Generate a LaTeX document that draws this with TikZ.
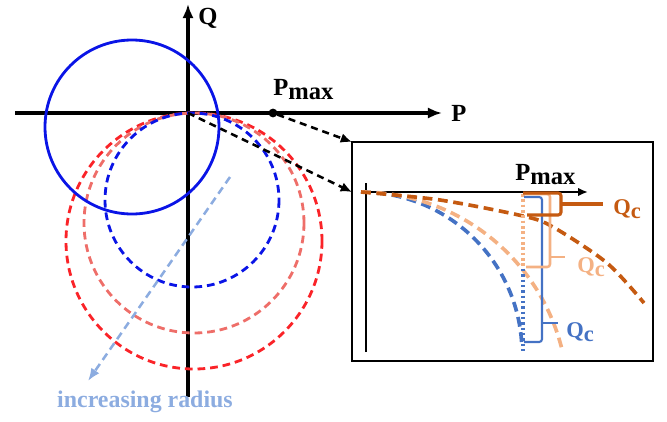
\documentclass[tikz,border=0pt]{standalone}
\usepackage{fontspec}
\setmainfont{Liberation Serif}
\usetikzlibrary{arrows.meta}

\definecolor{mainblue}{RGB}{10,20,230}
\definecolor{mainred}{RGB}{250,35,40}
\definecolor{salmon}{RGB}{238,110,105}
\definecolor{arrowblue}{RGB}{140,172,224}
\definecolor{insetblue}{RGB}{68,114,196}
\definecolor{peach}{RGB}{244,177,131}
\definecolor{darkorange}{RGB}{197,90,17}

\begin{document}
\begin{tikzpicture}[x=0.025cm, y=-0.025cm,
    font=\bfseries\fontsize{17.5}{20}\selectfont,
    axisline/.style={line width=2.6pt, -{Latex[length=10pt,width=8pt]}},
    circdash/.style={line width=2pt, dash pattern=on 5.5pt off 3.5pt},
    curvedash/.style={line width=2.6pt, dash pattern=on 7pt off 4pt},
    linkdash/.style={line width=1.8pt, dash pattern=on 5pt off 3.5pt, -{Latex[length=8pt,width=7pt]}},
    dotline/.style={line width=2.4pt, dash pattern=on 1.8pt off 2pt},
    bracket/.style={rounded corners=2pt},
    smalllab/.style={font=\bfseries\fontsize{16}{18}\selectfont, anchor=base west, inner sep=0pt}]
    \useasboundingbox (0,0) rectangle (667,422);

    % 坐标轴
    \coordinate (O) at (188,113);
    \coordinate (qbot) at (188,397);
    \coordinate (qtop) at (188,4);
    \coordinate (pleft) at (15,113);
    \coordinate (pright) at (442,113);
    \draw[axisline] (qbot) -- (qtop);
    \draw[axisline] (pleft) -- (pright);
    \node (Q) at (208,18) {Q};
    \node (P) at (459,113) {P};

    % 圆
    \draw[mainred, circdash] (194,241) circle (128);
    \draw[salmon, circdash] (194,223) circle (110);
    \draw[mainblue, circdash] (192,200) circle (87);
    \draw[mainblue, line width=2pt] (132,127) circle (87);

    % 半径增大方向
    \coordinate (rtail) at (230,177);
    \coordinate (rhead) at (88,381);
    \draw[arrowblue, line width=1.8pt, dash pattern=on 5.5pt off 3.5pt,
        -{Latex[length=9pt,width=7pt]}] (rtail) -- (rhead);
    \node[arrowblue, font=\bfseries\fontsize{17}{20}\selectfont] (incr) at (145,402) {increasing radius};

    % P_max 点
    \node[circle, fill, inner sep=0pt, minimum size=0.22cm] (pm) at (273,113) {};
    \node[anchor=base west, inner sep=0pt] (pmlab) at (273,95) {P\raisebox{-3.5pt}{max}};

    % 放大框
    \coordinate (boxnw) at (352,142);
    \coordinate (boxse) at (653,361);
    \coordinate (boxw) at (352,192);
    \draw[line width=2pt] (boxnw) rectangle (boxse);
    \draw[linkdash] (pm) -- (boxnw);
    \draw[linkdash] (O) -- (boxw);

    % 放大图坐标轴
    \coordinate (io) at (366,192);
    \coordinate (ibot) at (366,352);
    \coordinate (iright) at (588,192);
    \draw[line width=1.5pt] (ibot) -- (366,183);
    \draw[line width=1.5pt, -{Latex[length=7pt,width=6pt]}] (io) -- (iright);
    \node[anchor=base west, inner sep=0pt] (ipmlab) at (515,180) {P\raisebox{-3.5pt}{max}};

    % 曲线
    \coordinate (cstart) at (361,192);
    \draw[insetblue, curvedash] (cstart) arc[start angle=-90, end angle=-3.5, radius=161];
    \draw[peach, curvedash] (cstart) arc[start angle=-90, end angle=-13.7, radius=207];
    \draw[darkorange, curvedash] plot[smooth] coordinates {(361,192) (440,200) (523,216) (553,227) (607,263) (644,303)};

    % 竖线
    \draw[insetblue, dotline] (523,194) -- (523,354);
    \draw[peach, dotline] (523,194) -- (523,266);

    % Q_c 标注
    \draw[insetblue, line width=1.5pt, bracket] (524,197) -- (542,197) -- (542,342) -- (524,342);
    \draw[insetblue, line width=1.5pt] (542,323) -- (558,323);
    \node[insetblue, smalllab] (qcblue) at (566,337) {Q\raisebox{-3pt}{c}};

    \draw[peach, line width=1.8pt, bracket] (524,194) -- (550,194) -- (550,267) -- (526,267);
    \draw[peach, line width=1.8pt] (550,257) -- (565,257);
    \node[peach, smalllab] (qcpeach) at (577,272) {Q\raisebox{-3pt}{c}};

    \draw[darkorange, line width=2.2pt, bracket] (523,193) -- (561,193) -- (561,215) -- (527,215);
    \draw[darkorange, line width=2.2pt] (561,204) -- (603,204);
    \node[darkorange, smalllab] (qcorange) at (613,214) {Q\raisebox{-3pt}{c}};
\end{tikzpicture}
\end{document}
